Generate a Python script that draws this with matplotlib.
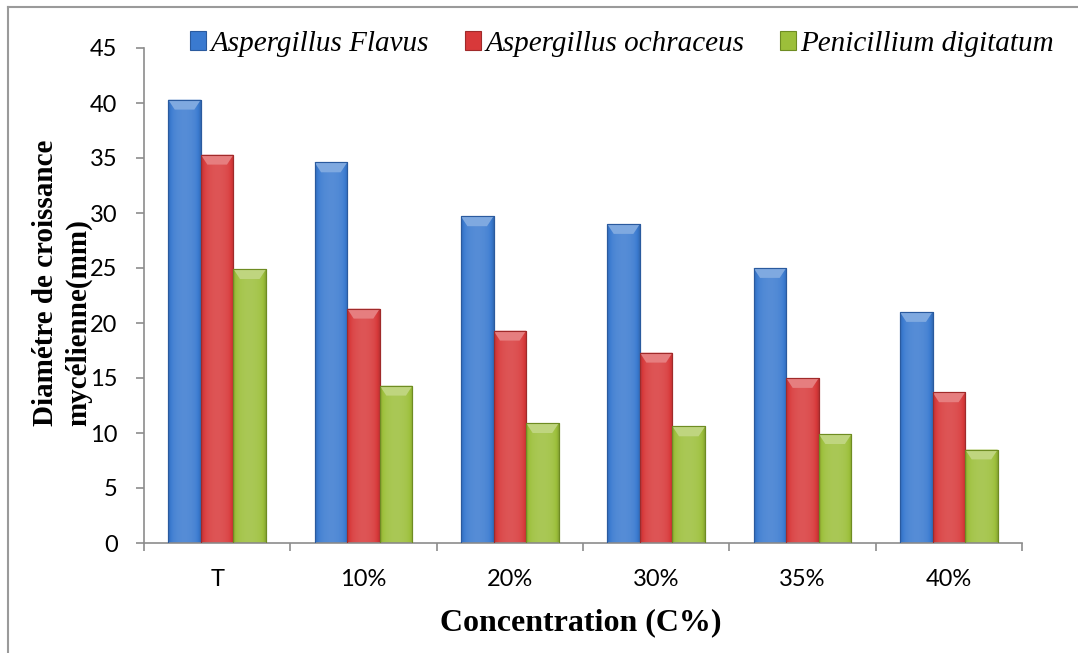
import numpy as np
import matplotlib.pyplot as plt
from matplotlib.patches import Polygon
from matplotlib.lines import Line2D
from matplotlib.colors import to_rgb

# --- Data: mycelial growth diameter (mm) by concentration ---
concentrations = ['T', '10%', '20%', '30%', '35%', '40%']
species = ['Aspergillus Flavus', 'Aspergillus ochraceus', 'Penicillium digitatum']
a_flavus = [40.3, 34.6, 29.7, 29.0, 25.0, 21.0]
a_ochraceus = [35.3, 21.3, 19.3, 17.3, 15.0, 13.7]
p_digitatum = [24.9, 14.3, 10.9, 10.6, 9.9, 8.5]
yticks = list(range(0, 50, 5))

series = [a_flavus, a_ochraceus, p_digitatum]
base_colors = ['#3a7ad0', '#d8393a', '#9cbf3a']
edge_colors = ['#2a5a9e', '#a02a2a', '#6e8c22']

serif = 'Liberation Serif'
sans = 'Lato'

fig = plt.figure(figsize=(10.78, 6.53), dpi=100)
W, H = 1078, 653
ax = fig.add_axes([144 / W, 1 - 543 / H, 878 / W, 495 / H])

x = np.arange(len(concentrations))
width = 0.223
offsets = [-width, 0, width]


def shade(c, f):
    r = np.array(to_rgb(c))
    if f >= 0:
        return r + (1 - r) * f
    return r * (1 + f)


handles = []
for vals, off, col, ecol, name in zip(series, offsets, base_colors, edge_colors, species):
    bars = ax.bar(x + off, vals, width, color=col, edgecolor=ecol,
                  linewidth=0.8, label=name, zorder=2)
    handles.append(bars)
    # horizontal shading across each bar, brighter near the middle
    t = np.linspace(-1, 1, 64)
    prof = 0.14 * (1 - t ** 2) - 0.15 * t ** 8
    grad = np.array([[shade(col, p) for p in prof]])
    bevel = 0.9
    for rect, v in zip(bars.patches, vals):
        x0 = rect.get_x()
        im = ax.imshow(grad, extent=[x0, x0 + width, 0, v], aspect='auto',
                       interpolation='bicubic', zorder=2.5)
        im.set_clip_path(rect)
        top = Polygon([[x0, v], [x0 + width, v],
                       [x0 + 0.8 * width, v - bevel], [x0 + 0.2 * width, v - bevel]],
                      closed=True, facecolor=shade(col, 0.35), edgecolor='none', zorder=3)
        ax.add_patch(top)
        ax.add_patch(Polygon([[x0, v], [x0 + width, v], [x0 + width, 0], [x0, 0]],
                             closed=True, fill=False, edgecolor=ecol, linewidth=0.8, zorder=3.5))

ax.set_xlim(-0.5, len(concentrations) - 0.5)
ax.set_ylim(0, 45)
ax.set_yticks(yticks)
ax.set_xticks(x)
ax.set_xticklabels(concentrations)
ax.set_xticks(np.arange(-0.5, len(concentrations)), minor=True)

for s in ['top', 'right']:
    ax.spines[s].set_visible(False)
for s in ['left', 'bottom']:
    ax.spines[s].set_color('#8c8c8c')
    ax.spines[s].set_linewidth(1.2)

ax.tick_params(axis='y', direction='out', length=6, width=1.2, color='#8c8c8c',
               pad=13, labelsize=17)
ax.tick_params(axis='x', which='major', length=0, pad=19, labelsize=17)
ax.tick_params(axis='x', which='minor', direction='out', length=6, width=1.2,
               color='#8c8c8c')
for lab in ax.get_xticklabels() + ax.get_yticklabels():
    lab.set_fontfamily(sans)

fig.text(581 / W, 1 - 623 / H, 'Concentration (C%)', ha='center', va='center',
         fontsize=23, fontweight='bold', fontfamily=serif)
fig.text(62 / W, 1 - 283 / H, 'Diamétre de croissance\nmycélienne(mm)',
         rotation=90, ha='center', va='center', multialignment='left',
         linespacing=1.25, fontsize=21, fontweight='bold', fontfamily=serif)

fig.legend(handles=handles, labels=species, loc='center left',
           bbox_to_anchor=(190 / W, 1 - 44 / H), ncol=3, frameon=False,
           prop={'family': serif, 'style': 'italic', 'size': 21},
           handlelength=0.55, handleheight=0.6, handletextpad=0.17,
           columnspacing=1.2, borderpad=0, borderaxespad=0)

# outer frame lines (top and left edges)
fig.add_artist(Line2D([8 / W, 1], [1 - 7 / H, 1 - 7 / H], color='#9a9a9a', lw=1.5))
fig.add_artist(Line2D([8 / W, 8 / W], [0, 1 - 7 / H], color='#9a9a9a', lw=1.5))

fig.savefig('out.png', dpi=100)
